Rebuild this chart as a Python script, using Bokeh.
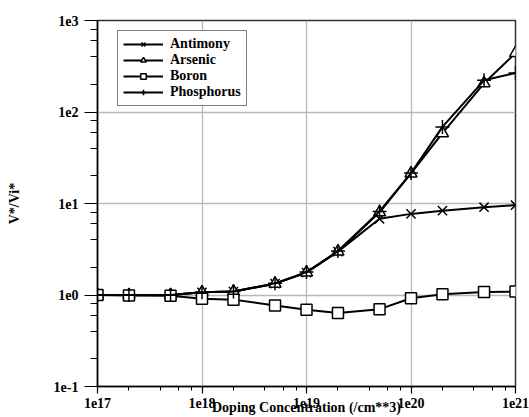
from bokeh.plotting import figure
from bokeh.models import (CustomJSTickFormatter, LogTicker, Legend, LegendItem,
                          Range1d, ColumnDataSource)
from bokeh.embed import file_html
from bokeh.resources import INLINE

# ---- data ----
doping = [1e17, 2e17, 5e17, 1e18, 2e18, 5e18, 1e19, 2e19, 5e19, 1e20, 2e20, 5e20, 1e21]
antimony = [1.0, 1.0, 1.0, 1.07, 1.09, 1.33, 1.76, 2.98, 6.8, 7.7, 8.35, 9.1, 9.6]
arsenic = [1.0, 1.0, 1.0, 1.07, 1.09, 1.33, 1.76, 2.98, 8.0, 21.3, 58.7, 206, 440]
boron = [1.0, 0.99, 0.98, 0.91, 0.89, 0.77, 0.69, 0.635, 0.70, 0.92, 1.02, 1.08, 1.09]
phosphorus = [1.0, 1.0, 1.0, 1.07, 1.09, 1.34, 1.78, 3.02, 8.2, 21.5, 68.7, 222, 267]

series_names = ["Antimony", "Arsenic", "Boron", "Phosphorus"]
series_values = [antimony, arsenic, boron, phosphorus]
markers = ["x", "triangle", "square", "cross"]
marker_sizes = [13, 12, 11, 14]

FONT = "Liberation Serif"

p = figure(width=529, height=417, x_axis_type="log", y_axis_type="log",
           x_range=Range1d(1e17, 1e21), y_range=Range1d(0.1, 1000),
           output_backend="svg", toolbar_location=None,
           min_border_left=97, min_border_right=14, min_border_top=20,
           min_border_bottom=30, background_fill_color="white",
           border_fill_color="white")

fmt = CustomJSTickFormatter(code="return '1e' + Math.round(Math.log10(tick));")
for ax in (p.xaxis[0], p.yaxis[0]):
    ax.ticker = LogTicker(desired_num_ticks=5)
    ax.formatter = fmt
    ax.axis_line_color = "black"
    ax.axis_line_width = 1.5
    ax.major_tick_line_color = "black"
    ax.minor_tick_line_color = "black"
    ax.major_tick_line_width = 1.2
    ax.minor_tick_line_width = 1
    ax.major_tick_in = 0
    ax.minor_tick_in = 0
    ax.major_label_text_font = FONT
    ax.major_label_text_font_style = "bold"
    ax.major_label_text_font_size = "14px"
    ax.major_label_text_color = "black"
    ax.axis_label_text_font = FONT
    ax.axis_label_text_font_style = "bold"
    ax.axis_label_text_font_size = "14px"
    ax.axis_label_text_color = "black"

p.xaxis.major_tick_out = 7
p.xaxis.minor_tick_out = 4
p.xaxis.major_label_standoff = 4
p.xaxis.axis_label = "Doping Concentration (/cm**3)"
p.xaxis.axis_label_standoff = -11

p.yaxis.major_tick_out = 13
p.yaxis.minor_tick_out = 7
p.yaxis.major_label_standoff = 6
p.yaxis.axis_label = "V*/Vi*"
p.yaxis.axis_label_standoff = 29

p.xgrid.grid_line_color = "#b8b8b8"
p.ygrid.grid_line_color = "#b8b8b8"
p.xgrid.grid_line_width = 1.3
p.ygrid.grid_line_width = 1.3

p.outline_line_color = "#333333"
p.outline_line_width = 1.5

items = []
for name, vals, mk, ms in zip(series_names, series_values, markers, marker_sizes):
    src = ColumnDataSource(dict(x=doping, y=vals))
    ln = p.line("x", "y", source=src, line_color="black", line_width=2)
    sc = p.scatter("x", "y", source=src, marker=mk, size=ms, line_color="black",
                   line_width=1.5, fill_color="white")
    items.append(LegendItem(label=name, renderers=[ln, sc]))

legend = Legend(items=items, location=(20, 280), orientation="vertical")
legend.border_line_color = "black"
legend.border_line_width = 1
legend.background_fill_color = "white"
legend.background_fill_alpha = 1
legend.label_text_font = FONT
legend.label_text_font_style = "bold"
legend.label_text_font_size = "14px"
legend.label_text_color = "black"
legend.glyph_width = 40
legend.glyph_height = 14
legend.label_height = 14
legend.spacing = 0
legend.padding = 5
legend.label_standoff = 7
legend.margin = 0
p.add_layout(legend)

open("out.html", "w").write(file_html(p, INLINE))
